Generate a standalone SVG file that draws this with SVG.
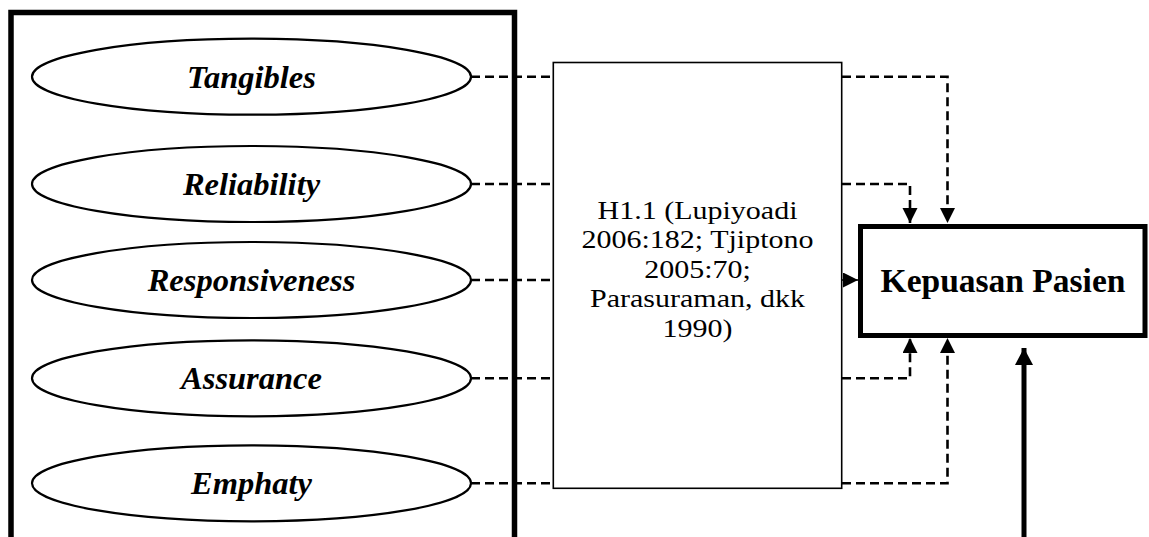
<svg xmlns="http://www.w3.org/2000/svg" width="1149" height="537" viewBox="0 0 1149 537">
<style>
.ell{fill:#fff;stroke:#000;stroke-width:2.2}
.lbl{font-family:"Liberation Serif","Times New Roman",serif;font-weight:bold;font-style:italic;font-size:32.5px;text-anchor:middle;fill:#000}
.ref{font-family:"Liberation Serif","Times New Roman",serif;font-size:25px;text-anchor:middle;fill:#000}
.kp{font-family:"Liberation Serif","Times New Roman",serif;font-weight:bold;font-size:33.5px;text-anchor:middle;fill:#000}
.dash{fill:none;stroke:#000;stroke-width:2.6;stroke-dasharray:9 5}
</style>
<defs>
<marker id="ah" markerUnits="userSpaceOnUse" markerWidth="16" markerHeight="16" refX="15" refY="7.5" orient="auto" viewBox="0 0 16 16">
<path d="M0,0 L15,7.5 L0,15 z" fill="#000"/>
</marker>
<marker id="ahb" markerUnits="userSpaceOnUse" markerWidth="18" markerHeight="20" refX="17" refY="9" orient="auto" viewBox="0 0 18 20">
<path d="M0,0 L17,9 L0,18 z" fill="#000"/>
</marker>
</defs>
<rect width="1149" height="537" fill="#fff"/>
<g id="container">
<path d="M11,537 V12.5 H514.5 V537" fill="none" stroke="#000" stroke-width="5.5"/>
</g>
<g id="connectors">
<path class="dash" d="M471,76.7 H553"/>
<path class="dash" d="M471,184 H553"/>
<path class="dash" d="M471,280 H553"/>
<path class="dash" d="M471,378.3 H553"/>
<path class="dash" d="M471,483.3 H553"/>
<path class="dash" d="M842,76.7 H947.5 V223" marker-end="url(#ah)"/>
<path class="dash" d="M842,184 H910 V223" marker-end="url(#ah)"/>
<path class="dash" d="M842,378.3 H910 V338" marker-end="url(#ah)"/>
<path class="dash" d="M842,483.3 H947.5 V338" marker-end="url(#ah)"/>
<path d="M842,280 H858" stroke="#000" stroke-width="1.5" marker-end="url(#ah)"/>
<path d="M1024,537 V348" stroke="#000" stroke-width="5" marker-end="url(#ahb)"/>
</g>
<g id="tangibles">
<ellipse class="ell" cx="251.5" cy="76.7" rx="219.5" ry="38"/>
<text class="lbl" x="251.5" y="88">Tangibles</text>
</g>
<g id="reliability">
<ellipse class="ell" cx="251.5" cy="184" rx="219.5" ry="38"/>
<text class="lbl" x="251.5" y="195">Reliability</text>
</g>
<g id="responsiveness">
<ellipse class="ell" cx="251.5" cy="280" rx="219.5" ry="38"/>
<text class="lbl" x="251.5" y="291">Responsiveness</text>
</g>
<g id="assurance">
<ellipse class="ell" cx="251.5" cy="378.3" rx="219.5" ry="38"/>
<text class="lbl" x="251.5" y="389">Assurance</text>
</g>
<g id="emphaty">
<ellipse class="ell" cx="251.5" cy="483.3" rx="219.5" ry="38"/>
<text class="lbl" x="251.5" y="494">Emphaty</text>
</g>
<g id="h11">
<rect x="553.3" y="62.5" width="288.4" height="425.8" fill="#fff" stroke="#000" stroke-width="1.6"/>
<g transform="translate(697.5,0) scale(1.2,1)">
<text class="ref" x="0" y="219">H1.1 (Lupiyoadi</text>
<text class="ref" x="0" y="248.5">2006:182; Tjiptono</text>
<text class="ref" x="0" y="278">2005:70;</text>
<text class="ref" x="0" y="307.5">Parasuraman, dkk</text>
<text class="ref" x="0" y="337">1990)</text>
</g>
</g>
<g id="kepuasan">
<rect x="860.5" y="226.5" width="284.5" height="109" fill="#fff" stroke="#000" stroke-width="5"/>
<text class="kp" x="1003" y="292">Kepuasan Pasien</text>
</g>
</svg>
